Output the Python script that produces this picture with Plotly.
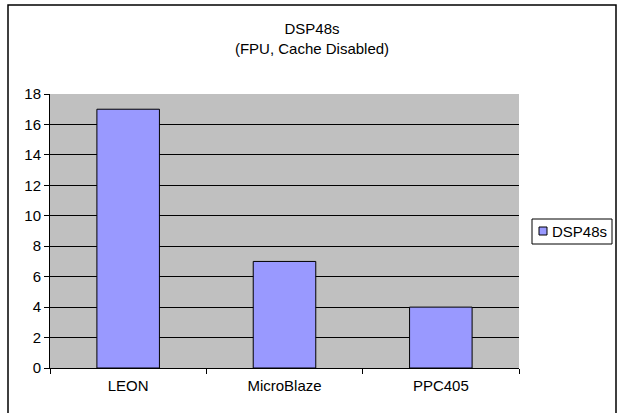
import plotly.graph_objects as go

categories = ["LEON", "MicroBlaze", "PPC405"]
values = [17, 7, 4]
series_name = "DSP48s"
title_lines = ["DSP48s", "(FPU, Cache Disabled)"]
y_ticks = [0, 2, 4, 6, 8, 10, 12, 14, 16, 18]

BAR_COLOR = "#9999FF"
font = dict(family="Liberation Sans, Arial, sans-serif", size=15, color="black")

fig = go.Figure(go.Bar(
    x=categories, y=values, name=series_name,
    marker=dict(color=BAR_COLOR, line=dict(color="black", width=1)),
    width=0.4, showlegend=False,
))

L, R, T, B = 50, 100, 94, 45
W, H = 619, 413
pw, ph = W - L - R, H - T - B

def px(x):
    return (x - L) / pw

def py(y):
    return (H - B - y) / ph

shapes = [
    # outer chart border
    dict(type="rect", xref="paper", yref="paper",
         x0=px(8), x1=px(616), y0=py(440), y1=py(5),
         line=dict(color="black", width=1.5), fillcolor="rgba(0,0,0,0)",
         layer="below"),
    # legend box
    dict(type="rect", xref="paper", yref="paper",
         x0=px(532), x1=px(612), y0=py(244), y1=py(219),
         line=dict(color="black", width=1), fillcolor="white"),
    # legend swatch
    dict(type="rect", xref="paper", yref="paper",
         x0=px(539), x1=px(547), y0=py(235), y1=py(227),
         line=dict(color="black", width=1), fillcolor=BAR_COLOR),
]

annotations = [
    dict(text=series_name, xref="paper", yref="paper", x=px(550), y=py(231.5),
         xanchor="left", yanchor="middle", showarrow=False, font=font),
]

fig.update_layout(
    width=W, height=H,
    margin=dict(l=L, r=R, t=T, b=B, autoexpand=False),
    paper_bgcolor="white", plot_bgcolor="#C0C0C0",
    font=font,
    title=dict(text="<br>".join(title_lines), x=312 / W, xanchor="center",
               y=1 - 34 / H, yanchor="middle", font=font),
    showlegend=False,
    xaxis=dict(showline=True, linecolor="black", linewidth=1,
               ticks="outside", ticklen=5, tickcolor="black",
               tickson="boundaries", showgrid=False, range=[-0.5, 2.5],
               ticklabelstandoff=4),
    yaxis=dict(range=[0, 18], tickvals=y_ticks, showline=True, linecolor="black",
               linewidth=1, ticks="outside", ticklen=5, tickcolor="black",
               showgrid=True, gridcolor="black", gridwidth=1, zeroline=False),
    shapes=shapes,
    annotations=annotations,
)

fig.write_html("out.html", config={"displayModeBar": False},
               post_script="document.body.style.margin='0';document.body.style.overflow='hidden';")
